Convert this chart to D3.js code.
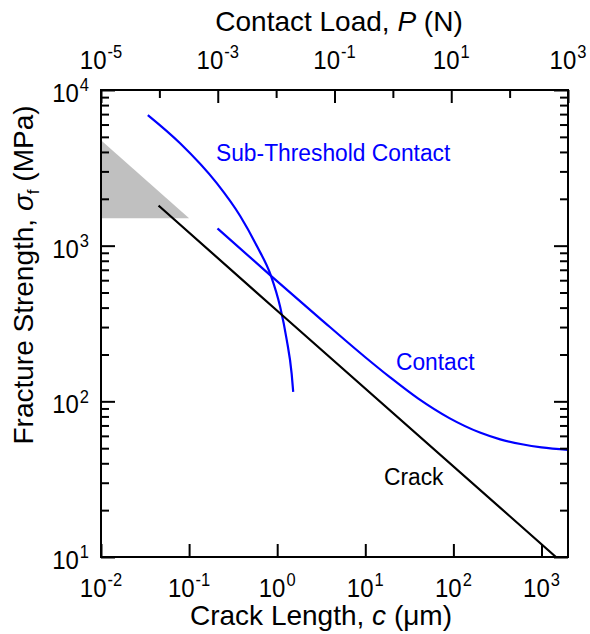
<!DOCTYPE html>
<html>
<head>
<meta charset="utf-8">
<script src="https://cdn.jsdelivr.net/npm/d3@7"></script>
<style>
  body { margin: 0; background: #fff; }
  svg { display: block; }
  text { font-family: "Liberation Sans", Arial, sans-serif; }
</style>
</head>
<body>
<svg id="chart" width="590" height="634"></svg>
<script>
// ---------------- data ----------------
// Crack line: fracture strength vs crack length
const crackC = [0.045, 1, 1460];
const crackSigma = [1810, 382, 10];

// Contact curve
const contactC = [0.21, 0.85, 3, 10, 19, 40, 90, 200, 340, 600, 1000, 2000];
const contactSigma = [1290, 640, 344, 192, 143, 104, 78, 63, 57, 53, 50.6, 48.8];

// Sub-threshold contact curve
const subC = [0.034, 0.079, 0.206, 0.38, 0.59, 0.85, 1.08, 1.28, 1.46, 1.52];
const subSigma = [6900, 4550, 2520, 1550, 990, 640, 405, 250, 150, 115];

// Grey shaded triangle
const shadeC = [0.01, 0.01, 0.1];
const shadeSigma = [4750, 1500, 1500];

// Tick exponents
const bottomExps = [-2, -1, 0, 1, 2, 3];
const topExps = [-5, -4, -3, -2, -1, 0, 1, 2, 3];
const topLabelExps = [-5, -3, -1, 1, 3];
const leftExps = [1, 2, 3, 4];

// Annotations (data coordinates)
const labels = [
  { text: "Sub-Threshold Contact", c: 0.202, s: 3500, color: "#0000ff" },
  { text: "Contact", c: 22.3, s: 160, color: "#0000ff" },
  { text: "Crack", c: 16.3, s: 29, color: "#000000" }
];

// ---------------- layout ----------------
const L = 101, R = 568, T = 90, B = 557;
const svg = d3.select("#chart");

const x = d3.scaleLog().domain([0.01, 2000]).range([L, R]);
const xTop = d3.scaleLog().domain([1e-5, 1e3]).range([L, R]);
const y = d3.scaleLog().domain([10, 1e4]).range([B, T]);

svg.append("defs").append("clipPath").attr("id", "plotclip")
  .append("rect").attr("x", L).attr("y", T).attr("width", R - L).attr("height", B - T);

const plot = svg.append("g").attr("clip-path", "url(#plotclip)");

// shaded triangle
const shadePts = shadeC.map((c, i) => [x(c), y(shadeSigma[i])]);
plot.append("path")
  .attr("d", d3.line()(shadePts) + "Z")
  .attr("fill", "#c0c0c0").attr("stroke", "none");

const line = d3.line().x(d => x(d[0])).y(d => y(d[1])).curve(d3.curveMonotoneX);

function drawSeries(cs, ss, color) {
  plot.append("path")
    .datum(cs.map((c, i) => [c, ss[i]]))
    .attr("d", line)
    .attr("fill", "none")
    .attr("stroke", color)
    .attr("stroke-width", 2.2);
}
drawSeries(subC, subSigma, "#0000ff");
drawSeries(contactC, contactSigma, "#0000ff");
drawSeries(crackC, crackSigma, "#000000");

// ---------------- axes (ticks inward) ----------------
function styleAxis(g) {
  g.select(".domain").remove();
  g.selectAll(".tick line").attr("stroke", "#000").attr("stroke-width", 2);
  g.selectAll(".tick text").remove();
}

const bottomVals = bottomExps.map(e => Math.pow(10, e));
svg.append("g").attr("transform", `translate(0,${B})`)
  .call(d3.axisBottom(x).tickValues(bottomVals).tickSize(-13).tickFormat(""))
  .call(styleAxis);

const topMajor = topExps.filter(e => topLabelExps.includes(e)).map(e => Math.pow(10, e));
const topMinor = topExps.filter(e => !topLabelExps.includes(e)).map(e => Math.pow(10, e));
svg.append("g").attr("transform", `translate(0,${T})`)
  .call(d3.axisTop(xTop).tickValues(topMajor).tickSize(-13).tickFormat(""))
  .call(styleAxis);
svg.append("g").attr("transform", `translate(0,${T})`)
  .call(d3.axisTop(xTop).tickValues(topMinor).tickSize(-8).tickFormat(""))
  .call(styleAxis);

const yMajor = leftExps.map(e => Math.pow(10, e));
const yMinor = [];
for (let d = 1; d <= 3; d++) for (let m = 2; m <= 9; m++) yMinor.push(m * Math.pow(10, d));

[[d3.axisLeft, L], [d3.axisRight, R]].forEach(([ax, pos]) => {
  svg.append("g").attr("transform", `translate(${pos},0)`)
    .call(ax(y).tickValues(yMajor).tickSize(-14).tickFormat(""))
    .call(styleAxis);
  svg.append("g").attr("transform", `translate(${pos},0)`)
    .call(ax(y).tickValues(yMinor).tickSize(-8).tickFormat(""))
    .call(styleAxis);
});

// frame
svg.append("rect").attr("x", L).attr("y", T).attr("width", R - L).attr("height", B - T)
  .attr("fill", "none").attr("stroke", "#000").attr("stroke-width", 2);

// ---------------- tick labels ----------------
const K = 1.08; // slight vertical stretch of the reference lettering
function powLabel(px, py, exp, anchor) {
  const t = svg.append("text")
    .attr("transform", `translate(${px},${py}) scale(1,${K})`)
    .attr("text-anchor", anchor)
    .attr("font-size", 24)
    .attr("fill", "#000");
  t.append("tspan").text("10");
  t.append("tspan").attr("dx", 1).attr("dy", -10).attr("font-size", 16.5).text(String(exp));
}
bottomExps.forEach(e => powLabel(x(Math.pow(10, e)), 597, e, "middle"));
topLabelExps.forEach(e => powLabel(xTop(Math.pow(10, e)), 69, e, "middle"));
leftExps.forEach(e => powLabel(89, y(Math.pow(10, e)) + 12, e, "end"));

// ---------------- axis titles ----------------
const tt = svg.append("text").attr("x", 339).attr("y", 31)
  .attr("text-anchor", "middle").attr("font-size", 28);
tt.append("tspan").text("Contact Load, ");
tt.append("tspan").attr("font-style", "italic").text("P");
tt.append("tspan").text(" (N)");

const bt = svg.append("text").attr("x", 321).attr("y", 625)
  .attr("text-anchor", "middle").attr("font-size", 28);
bt.append("tspan").text("Crack Length, ");
bt.append("tspan").attr("font-style", "italic").text("c");
bt.append("tspan").text(" (\u03bcm)");

const lt = svg.append("text").attr("transform", "translate(33,275) rotate(-90)")
  .attr("text-anchor", "middle").attr("font-size", 28);
lt.append("tspan").text("Fracture Strength, ");
lt.append("tspan").attr("font-style", "italic").text("\u03c3");
lt.append("tspan").attr("font-size", 17).attr("dy", 6).text("f");
lt.append("tspan").attr("dy", -6).text(" (MPa)");

// ---------------- annotations ----------------
labels.forEach(d => {
  svg.append("text")
    .attr("transform", `translate(${x(d.c)},${y(d.s)}) scale(1,1.08)`)
    .attr("font-size", 22.8)
    .attr("fill", d.color)
    .text(d.text);
});
</script>
</body>
</html>
